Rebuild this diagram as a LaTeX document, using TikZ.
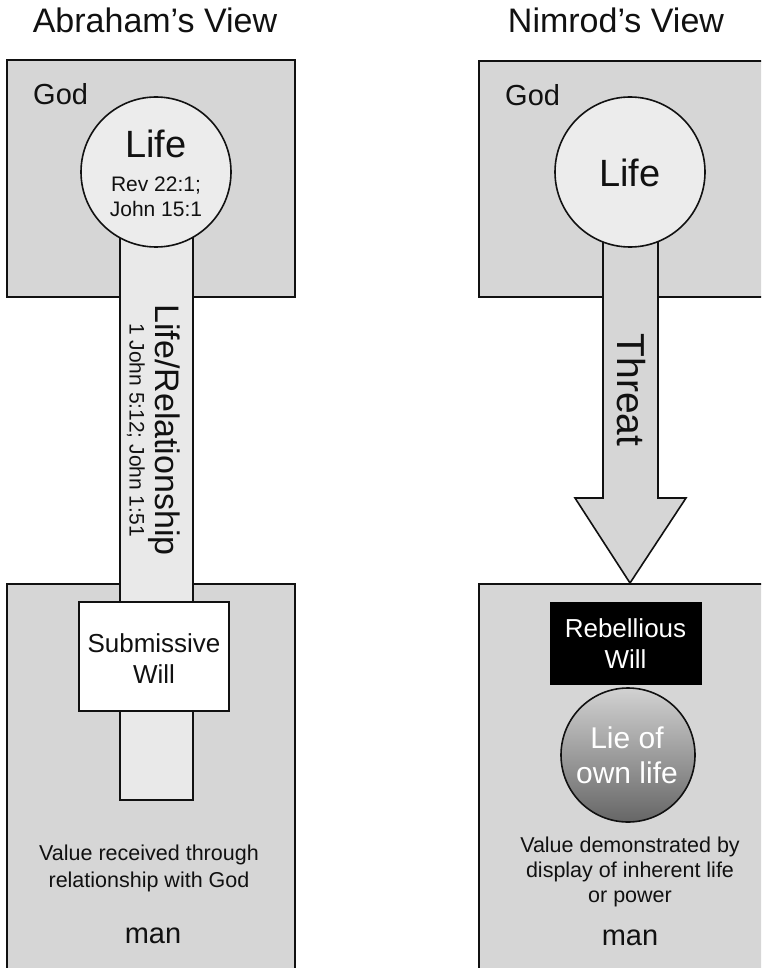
\documentclass[tikz,border=0pt]{standalone}
\usepackage{fontspec}
\setmainfont{Liberation Sans}
\definecolor{boxgray}{HTML}{D6D6D6}
\definecolor{circgray}{HTML}{ECECEC}
\definecolor{bargray}{HTML}{E9E9E9}
\definecolor{gradtop}{HTML}{D2D2D2}
\definecolor{gradbot}{HTML}{666666}
\definecolor{ink}{HTML}{111111}
\newcommand{\fs}[1]{\fontsize{#1}{#1}\selectfont}
\tikzset{
  panel/.style={draw=ink, line width=1.6pt, fill=boxgray, rectangle, inner sep=0pt},
  lifecircle/.style={draw=ink, line width=1.6pt, fill=circgray, circle, inner sep=0pt, minimum size=150pt},
  txt/.style={inner sep=0pt, anchor=base, text=ink},
  outl/.style={draw=ink, line width=1.6pt}
}
\begin{document}
\begin{tikzpicture}[x=1pt,y=-1pt]
\useasboundingbox (0,0) rectangle (761,968);
\clip (0,0) rectangle (761,968);
\fill[white] (0,0) rectangle (761,968);

% titles
\node[txt] (tA) at (155,33) {\fs{34}Abraham’s View};
\node[txt] (tN) at (616,33) {\fs{34}Nimrod’s View};

% ---------- Abraham ----------
\node[panel, minimum width=288pt, minimum height=237pt, anchor=north west] (godA) at (6,59) {};
\node[panel, minimum width=288pt, minimum height=420pt, anchor=north west] (manA) at (6,583) {};
\node[txt, anchor=base west] (godAt) at (33,105) {\fs{29}God};
\node[outl, fill=bargray, rectangle, inner sep=0pt, minimum width=73pt, minimum height=627pt, anchor=north] (bar) at (156.5,172) {};
\node[lifecircle] (lifeA) at (156,172) {};
\node[txt] (lifeAt) at (156,158) {\fs{38}Life};
\node[txt] (revA) at (156,192) {\fs{21}Rev 22:1;};
\node[txt] (johnA) at (156,217) {\fs{21}John 15:1};
\node[inner sep=0pt, rotate=-90, text=ink] (relA) at (164,430) {\fs{34}Life/Relationship};
\node[inner sep=0pt, rotate=-90, text=ink] (refA) at (136,430) {\fs{21}1 John 5:12; John 1:51};
\node[outl, fill=white, rectangle, inner sep=0pt, minimum width=150pt, minimum height=109pt] (subm) at (154,656.5) {};
\node[txt] (subm1) at (154,652) {\fs{26}Submissive};
\node[txt] (subm2) at (154,683) {\fs{26}Will};
\node[txt] (valA1) at (149,860) {\fs{21.5}Value received through};
\node[txt] (valA2) at (149,887) {\fs{21.5}relationship with God};
\node[txt] (manAt) at (153,943) {\fs{29}man};

% ---------- Nimrod ----------
\node[panel, minimum width=330pt, minimum height=236pt, anchor=north west] (godN) at (478,60) {};
\node[panel, minimum width=330pt, minimum height=420pt, anchor=north west] (manN) at (478,583) {};
\node[txt, anchor=base west] (godNt) at (505,106) {\fs{29}God};
\coordinate (tip) at (630,583);
\draw[outl, fill=boxgray, line join=miter]
  (603,172) -- (603,498) -- (575,498) -- (tip) -- (686,498) -- (658,498) -- (658,172) -- cycle;
\node[lifecircle] (lifeN) at (630,172) {};
\node[txt] (lifeNt) at (630,187) {\fs{38}Life};
\node[inner sep=0pt, rotate=-90, text=ink] (threat) at (631,390) {\fs{39}Threat};
\node[draw=black, fill=black, rectangle, inner sep=0pt, minimum width=151pt, minimum height=82pt] (reb) at (625.5,643) {};
\node[txt, text=white] (reb1) at (625.5,637) {\fs{26}Rebellious};
\node[txt, text=white] (reb2) at (625.5,668) {\fs{26}Will};
\shade[top color=gradtop, bottom color=gradbot] (628,755) circle (67);
\node[outl, circle, inner sep=0pt, minimum size=134pt] (lie) at (628,755) {};
\node[txt, text=white] (lie1) at (627,748) {\fs{30}Lie of};
\node[txt, text=white] (lie2) at (627,783) {\fs{30}own life};
\node[txt] (valN1) at (630,852) {\fs{21.5}Value demonstrated by};
\node[txt] (valN2) at (630,877) {\fs{21.5}display of inherent life};
\node[txt] (valN3) at (630,902) {\fs{21.5}or power};
\node[txt] (manNt) at (630,945) {\fs{29}man};
\end{tikzpicture}
\end{document}
